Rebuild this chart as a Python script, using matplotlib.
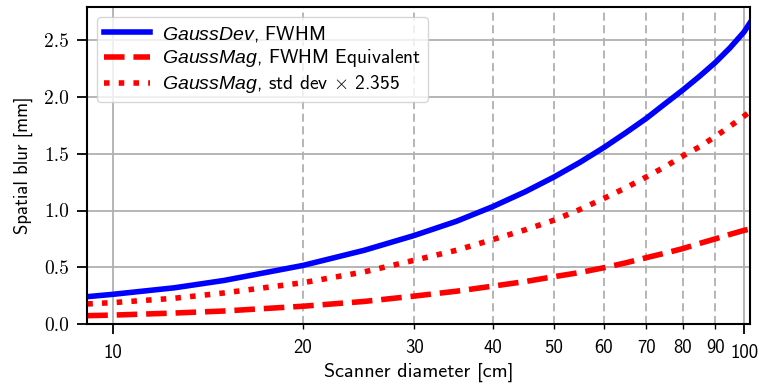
import matplotlib
matplotlib.use("Agg")
import matplotlib.pyplot as plt

# values
diameter = [9.1, 10, 12.5, 15, 20, 25, 30, 35, 40, 45, 50, 55, 60, 65, 70, 75, 80, 85, 90, 95, 100, 102.2]
fwhm_dev = [0.242, 0.263, 0.32, 0.385, 0.517, 0.65, 0.78, 0.905, 1.035, 1.165, 1.295, 1.425, 1.555,
            1.685, 1.81, 1.94, 2.06, 2.18, 2.30, 2.43, 2.57, 2.65]
fwhm_mag = [0.075, 0.08, 0.098, 0.116, 0.158, 0.2, 0.247, 0.29, 0.335, 0.375, 0.418, 0.455, 0.497,
            0.54, 0.585, 0.625, 0.665, 0.71, 0.75, 0.79, 0.825, 0.837]
std_mag = [0.178, 0.19, 0.228, 0.275, 0.365, 0.46, 0.562, 0.65, 0.745, 0.83, 0.915, 1.01, 1.107,
           1.20, 1.295, 1.385, 1.48, 1.56, 1.65, 1.74, 1.83, 1.87]

major_x = [10, 100]
minor_x = [20, 30, 40, 50, 60, 70, 80, 90]
y_ticks = [0.0, 0.5, 1.0, 1.5, 2.0, 2.5]

labels = [
    r"$\mathit{GaussDev}$, FWHM",
    r"$\mathit{GaussMag}$, FWHM Equivalent",
    r"$\mathit{GaussMag}$, std dev $\times$ 2.355",
]

plt.rcParams["font.family"] = ["cmss10", "DejaVu Sans"]
plt.rcParams["mathtext.fontset"] = "custom"
plt.rcParams["mathtext.rm"] = "cmss10"
plt.rcParams["mathtext.it"] = "Liberation Sans:italic"
plt.rcParams["axes.unicode_minus"] = False


def main():
    fig, ax = plt.subplots(figsize=(7.59, 3.92), dpi=100)
    fig.subplots_adjust(left=0.115, right=0.988, bottom=0.173, top=0.982)

    ax.plot(diameter, fwhm_dev, color="blue", lw=4.0, label=labels[0])
    ax.plot(diameter, fwhm_mag, color="red", lw=4.0, ls="--", label=labels[1])
    ax.plot(diameter, std_mag, color="red", lw=4.0, ls=":", label=labels[2])

    ax.set_xscale("log")
    ax.set_xlim(9.1, 102.2)
    ax.set_ylim(0, 2.79)

    ax.set_xticks(major_x)
    ax.set_xticklabels([str(v) for v in major_x])
    ax.set_xticks(minor_x, minor=True)
    ax.set_xticklabels([str(v) for v in minor_x], minor=True)
    ax.set_yticks(y_ticks)
    ax.set_yticklabels(["%.1f" % v for v in y_ticks], fontfamily="cmr10")

    ax.tick_params(axis="x", which="major", length=7, width=1.3, pad=7, labelsize=13.5)
    ax.tick_params(axis="x", which="minor", length=3.5, width=1.0, pad=7, labelsize=13.5)
    ax.tick_params(axis="y", which="major", length=7, width=1.3, pad=6, labelsize=14)

    ax.grid(which="major", color="#b0b0b0", lw=1.3)
    ax.grid(which="minor", axis="x", color="#b0b0b0", lw=1.3, dashes=(4.5, 2.5))

    for s in ax.spines.values():
        s.set_linewidth(1.5)

    ax.set_xlabel("Scanner diameter [cm]", fontsize=14.5, labelpad=1)
    ax.set_ylabel("Spatial blur [mm]", fontsize=13.5, labelpad=8)
    ax.legend(loc="upper left", fontsize=14, handlelength=2.4, handletextpad=0.6,
              labelspacing=0.2, borderpad=0.35, borderaxespad=0.5)

    fig.savefig("out.png", dpi=100)


if __name__ == "__main__":
    main()
